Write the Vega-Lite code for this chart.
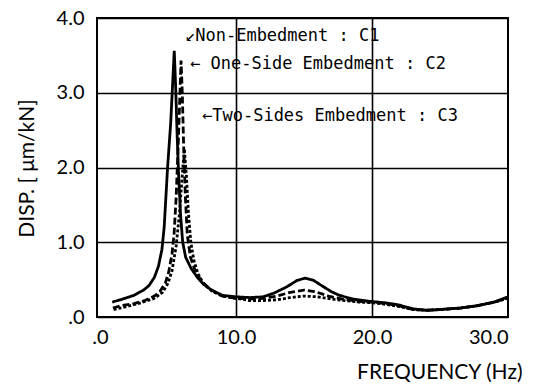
{
  "$schema": "https://vega.github.io/schema/vega-lite/v6.json",
  "width": 411,
  "height": 299,
  "autosize": {"type": "none"},
  "padding": {"left": 97, "top": 18, "right": 41, "bottom": 73},
  "background": "white",
  "config": {
    "view": {"stroke": "black", "strokeWidth": 2},
    "axis": {
      "labelFont": "Lato", "labelFontWeight": 400, "labelFontSize": 20, "labelColor": "black",
      "titleFont": "Lato", "titleFontWeight": 400, "titleFontSize": 21, "titleColor": "black",
      "ticks": false, "tickSize": 0, "domain": false,
      "gridColor": "black", "gridWidth": 1.6, "gridOpacity": 1
    }
  },
  "datasets": {
    "curves": [
      {"f":0.9,"d":0.2,"s":"C1"},{"f":1.5,"d":0.23,"s":"C1"},{"f":2.5,"d":0.29,"s":"C1"},{"f":3.2,"d":0.36,"s":"C1"},{"f":3.6,"d":0.42,"s":"C1"},{"f":4.0,"d":0.53,"s":"C1"},{"f":4.3,"d":0.68,"s":"C1"},{"f":4.55,"d":0.9,"s":"C1"},{"f":4.72,"d":1.2,"s":"C1"},{"f":4.97,"d":2.0,"s":"C1"},{"f":5.2,"d":2.6,"s":"C1"},{"f":5.35,"d":3.15,"s":"C1"},{"f":5.46,"d":3.56,"s":"C1"},{"f":5.56,"d":3.1,"s":"C1"},{"f":5.66,"d":2.5,"s":"C1"},{"f":5.78,"d":1.9,"s":"C1"},{"f":5.93,"d":1.35,"s":"C1"},{"f":6.08,"d":1.0,"s":"C1"},{"f":6.3,"d":0.8,"s":"C1"},{"f":6.7,"d":0.65,"s":"C1"},{"f":7.2,"d":0.52,"s":"C1"},{"f":7.6,"d":0.44,"s":"C1"},{"f":8.2,"d":0.36,"s":"C1"},{"f":9.0,"d":0.29,"s":"C1"},{"f":10,"d":0.27,"s":"C1"},{"f":11,"d":0.26,"s":"C1"},{"f":12,"d":0.27,"s":"C1"},{"f":12.8,"d":0.32,"s":"C1"},{"f":13.7,"d":0.4,"s":"C1"},{"f":14.5,"d":0.49,"s":"C1"},{"f":15.1,"d":0.52,"s":"C1"},{"f":15.7,"d":0.49,"s":"C1"},{"f":16.3,"d":0.42,"s":"C1"},{"f":17.0,"d":0.34,"s":"C1"},{"f":17.6,"d":0.29,"s":"C1"},{"f":18.6,"d":0.24,"s":"C1"},{"f":19.8,"d":0.21,"s":"C1"},{"f":21,"d":0.19,"s":"C1"},{"f":22,"d":0.16,"s":"C1"},{"f":23,"d":0.11,"s":"C1"},{"f":24,"d":0.09,"s":"C1"},{"f":25,"d":0.1,"s":"C1"},{"f":26.5,"d":0.12,"s":"C1"},{"f":27.7,"d":0.15,"s":"C1"},{"f":29,"d":0.2,"s":"C1"},{"f":30,"d":0.27,"s":"C1"},

      {"f":0.95,"d":0.12,"s":"C2"},{"f":1.5,"d":0.15,"s":"C2"},{"f":2.5,"d":0.18,"s":"C2"},{"f":3.3,"d":0.22,"s":"C2"},{"f":4.0,"d":0.28,"s":"C2"},{"f":4.4,"d":0.34,"s":"C2"},{"f":4.8,"d":0.45,"s":"C2"},{"f":5.05,"d":0.6,"s":"C2"},{"f":5.3,"d":0.85,"s":"C2"},{"f":5.45,"d":1.12,"s":"C2"},{"f":5.6,"d":1.6,"s":"C2"},{"f":5.75,"d":2.3,"s":"C2"},{"f":5.88,"d":3.0,"s":"C2"},{"f":5.96,"d":3.43,"s":"C2"},{"f":6.05,"d":3.0,"s":"C2"},{"f":6.15,"d":2.3,"s":"C2"},{"f":6.28,"d":1.6,"s":"C2"},{"f":6.42,"d":1.1,"s":"C2"},{"f":6.65,"d":0.8,"s":"C2"},{"f":7.0,"d":0.62,"s":"C2"},{"f":7.5,"d":0.47,"s":"C2"},{"f":8.2,"d":0.36,"s":"C2"},{"f":9,"d":0.28,"s":"C2"},{"f":10,"d":0.25,"s":"C2"},{"f":11,"d":0.24,"s":"C2"},{"f":12,"d":0.25,"s":"C2"},{"f":13,"d":0.28,"s":"C2"},{"f":14,"d":0.33,"s":"C2"},{"f":15,"d":0.36,"s":"C2"},{"f":15.8,"d":0.34,"s":"C2"},{"f":16.8,"d":0.28,"s":"C2"},{"f":17.8,"d":0.24,"s":"C2"},{"f":19,"d":0.21,"s":"C2"},{"f":20,"d":0.2,"s":"C2"},{"f":21,"d":0.18,"s":"C2"},{"f":22,"d":0.15,"s":"C2"},{"f":23,"d":0.1,"s":"C2"},{"f":24,"d":0.09,"s":"C2"},{"f":25,"d":0.1,"s":"C2"},{"f":26.5,"d":0.12,"s":"C2"},{"f":27.7,"d":0.15,"s":"C2"},{"f":29,"d":0.2,"s":"C2"},{"f":30,"d":0.26,"s":"C2"},

      {"f":1.0,"d":0.1,"s":"C3"},{"f":2,"d":0.14,"s":"C3"},{"f":3,"d":0.19,"s":"C3"},{"f":4,"d":0.25,"s":"C3"},{"f":4.6,"d":0.33,"s":"C3"},{"f":5.0,"d":0.45,"s":"C3"},{"f":5.3,"d":0.62,"s":"C3"},{"f":5.6,"d":0.95,"s":"C3"},{"f":5.85,"d":1.4,"s":"C3"},{"f":6.05,"d":1.9,"s":"C3"},{"f":6.2,"d":2.25,"s":"C3"},{"f":6.35,"d":1.9,"s":"C3"},{"f":6.5,"d":1.4,"s":"C3"},{"f":6.68,"d":1.0,"s":"C3"},{"f":6.9,"d":0.76,"s":"C3"},{"f":7.2,"d":0.58,"s":"C3"},{"f":7.6,"d":0.45,"s":"C3"},{"f":8.2,"d":0.35,"s":"C3"},{"f":9,"d":0.28,"s":"C3"},{"f":10,"d":0.25,"s":"C3"},{"f":11,"d":0.22,"s":"C3"},{"f":12,"d":0.22,"s":"C3"},{"f":13,"d":0.23,"s":"C3"},{"f":14,"d":0.26,"s":"C3"},{"f":15,"d":0.28,"s":"C3"},{"f":16,"d":0.27,"s":"C3"},{"f":17,"d":0.24,"s":"C3"},{"f":18,"d":0.22,"s":"C3"},{"f":19,"d":0.2,"s":"C3"},{"f":20,"d":0.19,"s":"C3"},{"f":21,"d":0.17,"s":"C3"},{"f":22,"d":0.14,"s":"C3"},{"f":23,"d":0.1,"s":"C3"},{"f":24,"d":0.09,"s":"C3"},{"f":25,"d":0.1,"s":"C3"},{"f":26.5,"d":0.12,"s":"C3"},{"f":27.7,"d":0.15,"s":"C3"},{"f":29,"d":0.2,"s":"C3"},{"f":30,"d":0.25,"s":"C3"}
    ],
    "notes": [
      {"f":6.25,"d":3.76,"label":"↙Non-Embedment : C1"},
      {"f":6.62,"d":3.39,"label":"← One-Side Embedment : C2"},
      {"f":7.5,"d":2.69,"label":"←Two-Sides Embedment : C3"}
    ]
  },
  "layer": [
    {
      "data": {"name": "curves"},
      "mark": {"type": "line", "color": "black", "strokeWidth": 2.8},
      "encoding": {
        "x": {
          "field": "f", "type": "quantitative",
          "scale": {"domain": [-0.22, 30], "nice": false, "zero": false},
          "axis": {
            "values": [0, 10, 20, 30],
            "labelExpr": "datum.value == 0 ? '.0' : format(datum.value, '.1f')",
            "labelDx": 11, "labelBaseline": "middle", "labelPadding": 20,
            "gridOpacity": {"condition": {"test": "datum.value == 0 || datum.value == 30", "value": 0}, "value": 1},
            "title": "FREQUENCY (Hz)",
            "titleX": 425, "titleY": 55, "titleAlign": "right", "titleBaseline": "middle"
          }
        },
        "y": {
          "field": "d", "type": "quantitative",
          "scale": {"domain": [0, 4], "nice": false},
          "axis": {
            "values": [0, 1, 2, 3, 4],
            "labelExpr": "datum.value == 0 ? '.0' : format(datum.value, '.1f')",
            "labelPadding": 13, "labelBaseline": "middle", "labelDy": 3,
            "title": "DISP. [ μm/kN]",
            "titleX": -70, "titleY": 150, "titleAlign": "center", "titleBaseline": "middle", "titleAngle": -90
          }
        },
        "detail": {"field": "s"},
        "strokeDash": {
          "field": "s", "type": "nominal",
          "scale": {"domain": ["C1", "C2", "C3"], "range": [[1, 0], [7, 3], [3, 2]]},
          "legend": null
        }
      }
    },
    {
      "data": {"name": "notes"},
      "mark": {"type": "text", "font": "DejaVu Sans Mono", "fontSize": 17, "align": "left", "baseline": "middle", "color": "black"},
      "encoding": {
        "x": {"field": "f", "type": "quantitative"},
        "y": {"field": "d", "type": "quantitative"},
        "text": {"field": "label"}
      }
    }
  ]
}
